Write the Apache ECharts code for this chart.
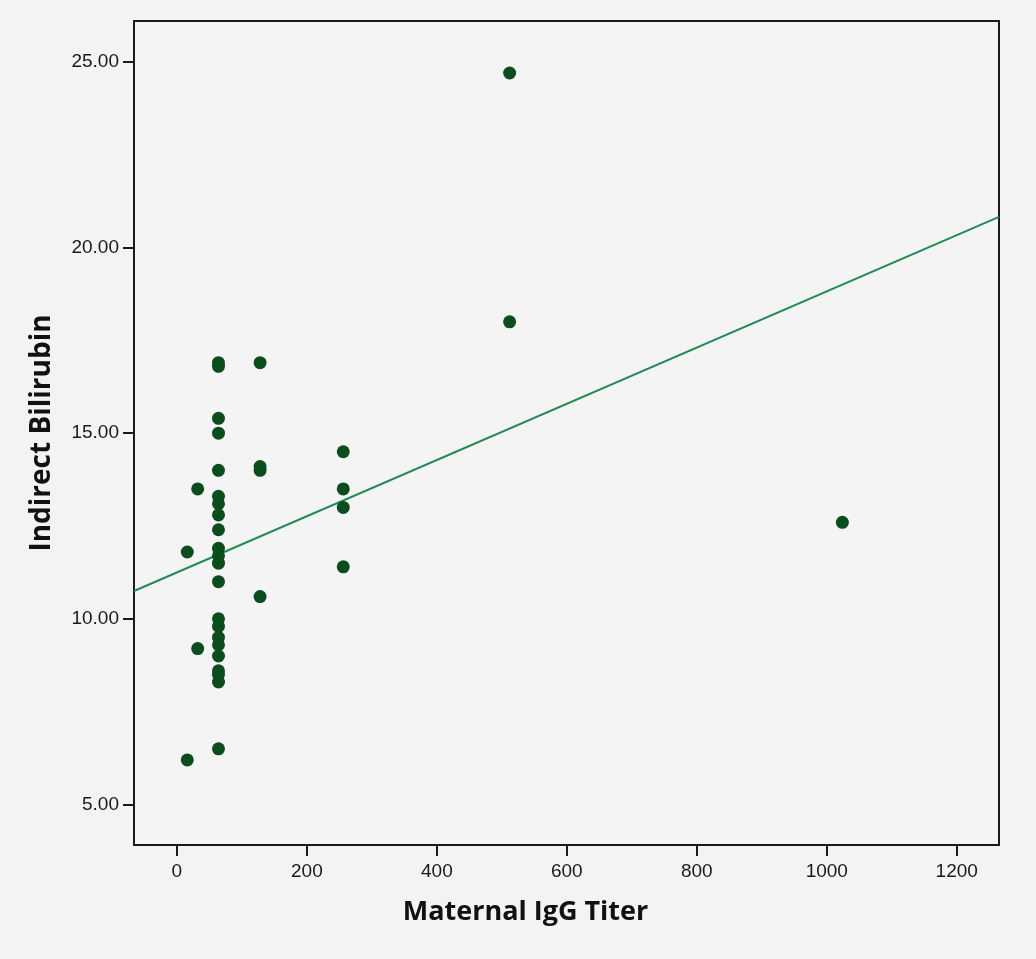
<!DOCTYPE html>
<html>
<head>
<meta charset="utf-8">
<script src="https://cdn.jsdelivr.net/npm/echarts@6/dist/echarts.min.js"></script>
<style>
  html, body { margin: 0; padding: 0; background: #f3f3f3; }
  #chart { width: 1036px; height: 959px; }
</style>
</head>
<body>
<div id="chart"></div>
<script>
// Maternal IgG titer (x) and the newborn's indirect bilirubin (y), one entry per case
const titers = [
  16, 16,
  32, 32,
  64, 64, 64, 64, 64, 64, 64, 64, 64, 64, 64, 64, 64, 64, 64, 64, 64, 64, 64, 64, 64, 64,
  128, 128, 128, 128,
  256, 256, 256, 256,
  512, 512,
  1024
];
const bilirubin = [
  11.8, 6.2,
  13.5, 9.2,
  16.9, 16.8, 15.4, 15.0, 14.0, 13.3, 13.1, 12.8, 12.4, 11.9, 11.7, 11.5, 11.0, 10.0, 9.8, 9.5, 9.3, 9.0, 8.6, 8.5, 8.3, 6.5,
  16.9, 14.1, 14.0, 10.6,
  14.5, 13.5, 13.0, 11.4,
  24.7, 18.0,
  12.6
];

// Linear fit line: intercept and slope
const fitIntercept = 11.25;
const fitSlope = 0.00757;

// Axis ranges and tick labels
const xRange = [-66, 1265];
const yRange = [3.91, 26.1];
const xTicks = [0, 200, 400, 600, 800, 1000, 1200];
const yTicks = [5, 10, 15, 20, 25];

const points = titers.map((t, i) => [t, bilirubin[i]]);
const fitLine = xRange.map(x => [x, fitIntercept + fitSlope * x]);

const chart = echarts.init(document.getElementById('chart'), null, { renderer: 'canvas' });

const labelFont = { fontFamily: 'Liberation Sans', fontSize: 19, color: '#1a1a1a' };
const nameFont = { fontFamily: 'Open Sans', fontWeight: 'bold', color: '#111' };

chart.setOption({
  backgroundColor: '#f3f3f3',
  animation: false,
  grid: { left: 134, top: 21, right: 37, bottom: 114, show: true, borderColor: '#1a1a1a', borderWidth: 2, backgroundColor: '#f4f4f4' },
  xAxis: {
    type: 'value',
    min: xRange[0],
    max: xRange[1],
    name: 'Maternal IgG Titer',
    nameLocation: 'middle',
    nameGap: 54,
    nameTextStyle: Object.assign({ fontSize: 27, padding: [0, 82, 0, 0] }, nameFont),
    axisLine: { show: true, onZero: false, lineStyle: { color: '#1a1a1a', width: 2 } },
    axisTick: { show: true, inside: false, length: 11, lineStyle: { color: '#1a1a1a', width: 2 }, customValues: xTicks },
    axisLabel: Object.assign({ margin: 17, customValues: xTicks, formatter: v => String(v) }, labelFont),
    splitLine: { show: false }
  },
  yAxis: {
    type: 'value',
    min: yRange[0],
    max: yRange[1],
    name: 'Indirect Bilirubin',
    nameLocation: 'middle',
    nameGap: 78,
    nameRotate: 90,
    nameTextStyle: Object.assign({ fontSize: 28 }, nameFont),
    axisLine: { show: true, onZero: false, lineStyle: { color: '#1a1a1a', width: 2 } },
    axisTick: { show: true, inside: false, length: 11, lineStyle: { color: '#1a1a1a', width: 2 }, customValues: yTicks },
    axisLabel: Object.assign({ margin: 15, customValues: yTicks, formatter: v => v.toFixed(2) }, labelFont),
    splitLine: { show: false }
  },
  series: [
    {
      type: 'line',
      data: fitLine,
      symbol: 'none',
      lineStyle: { color: '#218a55', width: 2 },
      silent: true,
      z: 2
    },
    {
      type: 'scatter',
      data: points,
      symbol: 'circle',
      symbolSize: 13,
      itemStyle: { color: '#0b4d1c', opacity: 1 },
      z: 3
    }
  ]
});
</script>
</body>
</html>
